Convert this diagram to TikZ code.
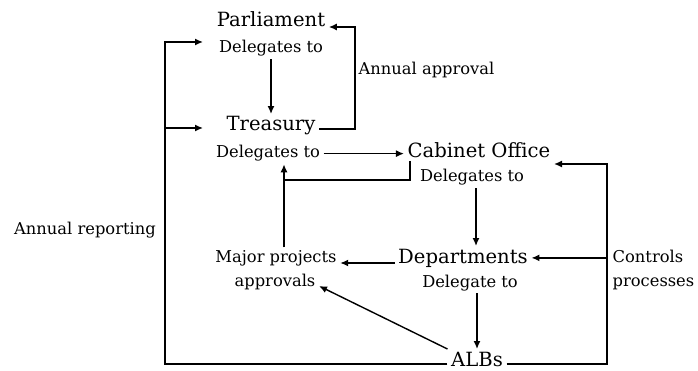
\documentclass[tikz,border=0pt]{standalone}
\usepackage{fontspec}
\setmainfont{DejaVu Serif}
\usetikzlibrary{arrows.meta}
\usetikzlibrary{positioning}

\tikzset{
    mainlabel/.style={inner xsep=3pt, inner ysep=2pt, anchor=base, font=\fontsize{19.6}{22}\selectfont},
    sublabel/.style={inner xsep=3pt, inner ysep=2pt, anchor=base, font=\fontsize{16.3}{18}\selectfont},
    >={Latex[length=8pt,width=7pt]}
}

\begin{document}
\begin{tikzpicture}[x=1pt, y=-1pt, line width=1.4pt]
    \useasboundingbox (0,0) rectangle (698,371);

    \node [mainlabel] (parl) at (271,27) {Parliament};
    \node [sublabel] (parlDel) at (271,53) {Delegates to};
    \node [mainlabel] (treas) at (271,131) {Treasury};
    \node [sublabel] (treasDel) at (268,158) {Delegates to};
    \node [mainlabel] (cab) at (479,158) {Cabinet Office};
    \node [sublabel] (cabDel) at (472,182) {Delegates to};
    \node [mainlabel] (dep) at (463,263) {Departments};
    \node [sublabel] (depDel) at (470,287) {Delegate to};
    \node [mainlabel] (albs) at (477,366) {ALBs};
    \node [sublabel] (majA) at (276,262) {Major projects};
    \node [sublabel] (majB) at (275,286) {approvals};
    \node [sublabel, anchor=base west] (apprLbl) at (355,75) {Annual approval};
    \node [sublabel] (repLbl) at (85,235) {Annual reporting};
    \node [sublabel, anchor=base west] (ctlA) at (609,262) {Controls};
    \node [sublabel, anchor=base west] (ctlB) at (609,286) {processes};

    \coordinate (apr) at (355,0);
    \coordinate (rep) at (165,364);
    \coordinate (inParl) at (203,42);
    \coordinate (inTreas) at (203,128);
    \coordinate (ctrl) at (607,164);
    \coordinate (mp) at (284,0);
    \coordinate (junc) at (284,180);
    \coordinate (col) at (476,0);

    \draw [->] (parlDel.south) -- (treas.north);
    \draw [->] (treas.base east) ++(0,-2) -- (355,129) -- (parl.base east -| apr) -- (parl.base east);
    \draw [->] (rep -| albs.west) -- (rep) |- (inParl);
    \draw [->] (rep |- inTreas) -- (inTreas);
    \draw [->] (rep -| albs.east) -| (ctrl) -- (cab.east |- ctrl);
    \draw [->] (treasDel.east) -- (treasDel.east -| cab.west);
    \draw ([xshift=6pt]cab.south west) |- (junc);
    \draw [->] (majA.north -| mp) -- (treasDel.south -| mp);
    \draw [->] (cabDel.south -| col) -- (dep.north -| col);
    \draw [->] (depDel.south -| albs.north) -- (albs.north);
    \draw [->] (dep.east -| ctrl) -- (dep.east);
    \draw [->] (dep.base west) -- (dep.base west -| majA.east);
    \draw [->] (albs.north west) -- (majB.base east);
\end{tikzpicture}
\end{document}
